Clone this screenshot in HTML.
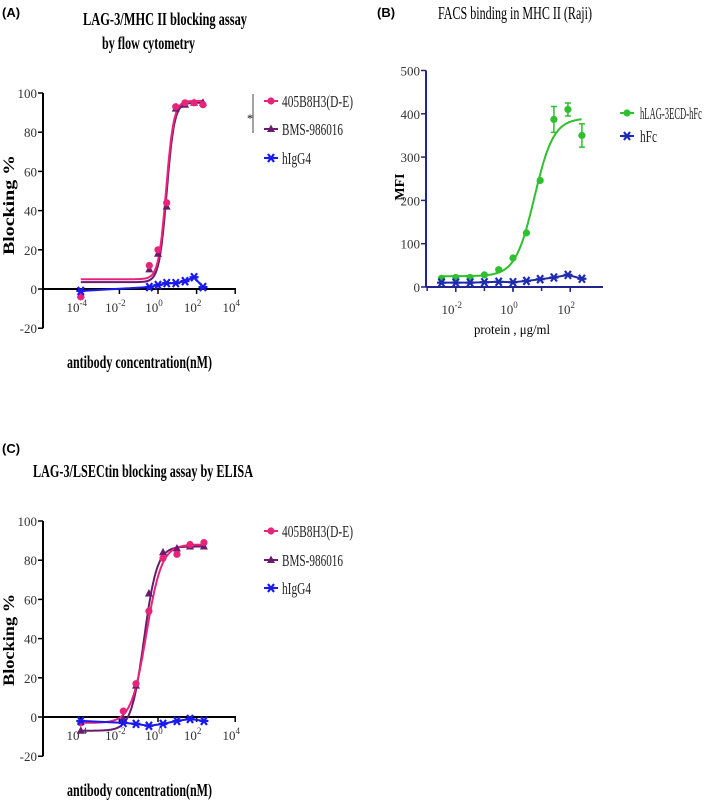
<!DOCTYPE html>
<html><head><meta charset="utf-8">
<style>
html,body{margin:0;padding:0;background:#fff;}
svg{display:block;font-family:"Liberation Serif",serif;}
.lbl{font-family:"Liberation Sans",sans-serif;font-weight:bold;font-size:13px;}
.ttl{font-weight:bold;font-size:18px;}
.tick{font-size:13px;fill:#333;}
</style></head>
<body>
<svg id="fig" width="709" height="805" viewBox="0 0 709 805">
<text class="lbl" x="2" y="17">(A)</text>
<text class="ttl" x="83" y="25" textLength="164" lengthAdjust="spacingAndGlyphs">LAG-3/MHC II blocking assay</text>
<text class="ttl" x="102" y="49" textLength="93" lengthAdjust="spacingAndGlyphs">by flow cytometry</text>
<text class="ttl" x="14" y="205" text-anchor="middle" transform="rotate(-90 14 205)" textLength="100" lengthAdjust="spacingAndGlyphs" style="font-size:16px">Blocking %</text>
<text class="ttl" x="67" y="368" textLength="145" lengthAdjust="spacingAndGlyphs">antibody concentration(nM)</text>

<text class="lbl" x="377" y="17">(B)</text>
<text x="438" y="19" textLength="154" lengthAdjust="spacingAndGlyphs" style="font-size:18px">FACS binding in  MHC II (Raji)</text>
<text x="404" y="187" text-anchor="middle" transform="rotate(-90 404 187)" style="font-size:14px;font-weight:bold">MFI</text>
<text x="474" y="334" textLength="76" lengthAdjust="spacingAndGlyphs" style="font-size:14px">protein , μg/ml</text>

<text class="lbl" x="2" y="453">(C)</text>
<text class="ttl" x="33" y="477" textLength="220" lengthAdjust="spacingAndGlyphs">LAG-3/LSECtin blocking assay by ELISA</text>
<text class="ttl" x="14" y="640" text-anchor="middle" transform="rotate(-90 14 640)" textLength="92" lengthAdjust="spacingAndGlyphs" style="font-size:16px">Blocking %</text>
<text class="ttl" x="67" y="796" textLength="145" lengthAdjust="spacingAndGlyphs">antibody concentration(nM)</text>
</svg>
<script>
// Panel A data (log10 concentration)
const aLogX = [-4, -0.45, 0.0, 0.45, 0.92, 1.4, 1.87, 2.33];
const aPink = [-4, 12, 20, 44, 93, 95, 95, 94];
const aPurple = [-3, 10, 18, 42, 92, 94, 95, 95];
const aBlue = [-1, 1, 2, 3, 3, 4, 6, 1];
const aYTicks = [-20, 0, 20, 40, 60, 80, 100];
const aXTicks = [-4, -2, 0, 2, 4];
const aFitPink = [5, 96, 0.42, 2.2];
const aFitPurple = [3.5, 95, 0.45, 2.2];
// Panel B data
const bLogX = [-2.5, -2.0, -1.5, -1.0, -0.5, 0.0, 0.47, 0.95, 1.43, 1.92, 2.41];
const bGreen = [20, 22, 22, 28, 40, 67, 125, 246, 387, 410, 350];
const bGreenErr = [0, 0, 0, 0, 0, 0, 0, 0, 30, 15, 27];
const bBlue = [10, 10, 10, 11, 12, 11, 14, 18, 22, 28, 19];
const bYTicks = [0, 100, 200, 300, 400, 500];
const bXTicks = [-2, 0, 2];
const bFitGreen = [25, 390, 0.75, 1.3];
// Panel C data
const cLogX = [-4, -1.8, -1.14, -0.47, 0.26, 0.98, 1.66, 2.38];
const cPink = [-3, 3, 17, 54, 81, 83, 88, 89];
const cPurple = [-7, -1, 16, 63, 84, 86, 87, 87];
const cBlue = [-2, -3, -3.5, -4.5, -3.5, -2, -1, -2];
const cYTicks = [-20, 0, 20, 40, 60, 80, 100];
const cXTicks = [-4, -2, 0, 2, 4];
const cFitPink = [-3, 88, -0.6, 1.1];
const cFitPurple = [-7, 87, -0.72, 1.3];

const NS = "http://www.w3.org/2000/svg";
const svg = document.getElementById('fig');
function mk(tag, attrs, parent) {
  const e = document.createElementNS(NS, tag);
  for (const k in attrs) e.setAttribute(k, attrs[k]);
  (parent || svg).appendChild(e);
  return e;
}
function logistic(f, lx) { return f[0] + (f[1] - f[0]) / (1 + Math.pow(10, f[3] * (f[2] - lx))); }

function axes(p, prefix) {
  const g = mk('g', {});
  
  
  const yTop = p.sy(p.yTicks[p.yTicks.length - 1]), yBot = p.sy(p.yTicks[0]);
  mk('line', {x1: p.x0, y1: yTop, x2: p.x0, y2: yBot, stroke: p.ac, 'stroke-width': 2}, g);
  mk('line', {x1: p.x0, y1: p.sy(0), x2: p.xEnd, y2: p.sy(0), stroke: p.ac, 'stroke-width': 2}, g);
  p.yTicks.forEach(v => {
    mk('line', {x1: p.x0 - 5, y1: p.sy(v), x2: p.x0, y2: p.sy(v), stroke: p.ac, 'stroke-width': 1.5}, g);
    const t = mk('text', {x: p.x0 - 6, y: p.sy(v) + 5, 'text-anchor': 'end', class: 'tick'}, g);
    t.textContent = v;
  });
  p.xTicks.forEach(v => {
    const x = p.sx(v);
    mk('line', {x1: x, y1: p.sy(0), x2: x, y2: p.sy(0) + 5, stroke: p.ac, 'stroke-width': 1.5}, g);
    const t = mk('text', {x: x - 4, y: p.tickY, 'text-anchor': 'middle', class: 'tick'}, g);
    t.textContent = '10';
    const s = mk('tspan', {dy: -6, style: 'font-size:9px'}, t);
    s.textContent = v;
  });
  if (p.minor) {
    for (let d = -3; d <= 2; d++) {
      const x = p.sx(d);
      if (x > p.x0 && x < p.xEnd) mk('line', {x1: x, y1: p.sy(0), x2: x, y2: p.sy(0) + 4, stroke: p.ac, 'stroke-width': 1.5}, g);
    }
  }
}
function curve(p, fit, color, name) {
  let d = '';
  for (let lx = p.fitFrom; lx <= p.fitTo + 1e-9; lx += 0.02) d += (d ? 'L' : 'M') + p.sx(lx).toFixed(1) + ',' + p.sy(logistic(fit, lx)).toFixed(1);
  const e = mk('path', {d: d, fill: 'none', stroke: color, 'stroke-width': 2});
  
  
}
function polyline(p, xs, ys, color, name) {
  const e = mk('polyline', {points: xs.map((x, i) => p.sx(x) + ',' + p.sy(ys[i])).join(' '), fill: 'none', stroke: color, 'stroke-width': 2});
  
  
}
function marker(type, x, y, color, g) {
  if (type === 'dot') mk('circle', {cx: x, cy: y, r: 3.6, fill: color}, g);
  else if (type === 'tri') mk('polygon', {points: `${x},${y - 4.5} ${x - 4},${y + 3} ${x + 4},${y + 3}`, fill: color}, g);
  else {
    mk('path', {d: `M${x - 4.5},${y}H${x + 4.5}M${x - 3},${y - 4}L${x + 3},${y + 4}M${x + 3},${y - 4}L${x - 3},${y + 4}`, stroke: color, 'stroke-width': 2.2, fill: 'none'}, g);
  }
}
function points(p, xs, ys, type, color, name, err) {
  const g = mk('g', {});
  
  
  xs.forEach((lx, i) => {
    const x = p.sx(lx), y = p.sy(ys[i]);
    if (err && err[i]) {
      const y1 = p.sy(ys[i] + err[i]), y2 = p.sy(ys[i] - err[i]);
      mk('path', {d: `M${x},${y1}V${y2}M${x - 3},${y1}H${x + 3}M${x - 3},${y2}H${x + 3}`, stroke: color, 'stroke-width': 1.5, fill: 'none'}, g);
    }
    marker(type, x, y, color, g);
  });
}
function legend(items, mx, tx, name) {
  items.forEach(it => {
    const g = mk('g', {});
    
    
    mk('line', {x1: mx - 7, y1: it.y, x2: mx + 7, y2: it.y, stroke: it.color, 'stroke-width': 2}, g);
    marker(it.type, mx, it.y, it.color, g);
    const t = mk('text', {x: tx, y: it.y + 6, style: 'font-size:17px;fill:#222', textLength: it.w, lengthAdjust: 'spacingAndGlyphs'}, g);
    t.textContent = it.label;
  });
}

// Panel A
const pA = {x0: 43, xEnd: 236, sx: v => 158 + v * 19.3, sy: v => 289 - v * 1.96, yTicks: aYTicks, xTicks: aXTicks, tickY: 312, ac: '#000', fitFrom: -4, fitTo: 2.33};
axes(pA, 'panel-a');
curve(pA, aFitPurple, '#6a1b6e', 'panel-a-bms-curve');
curve(pA, aFitPink, '#e8247a', 'panel-a-405-curve');
polyline(pA, aLogX, aBlue, '#1a1aee', 'panel-a-higg4-line');
points(pA, aLogX, aPurple, 'tri', '#6a1b6e', 'panel-a-bms-points');
points(pA, aLogX, aPink, 'dot', '#e8247a', 'panel-a-405-points');
points(pA, aLogX, aBlue, 'star', '#1a1aee', 'panel-a-higg4-points');
const br = mk('line', {x1: 253, y1: 94, x2: 253, y2: 133, stroke: '#444', 'stroke-width': 1});


const st = mk('text', {x: 247, y: 122, style: 'font-size:12px'});
st.textContent = '*';


legend([{key: '405', y: 101, color: '#e8247a', type: 'dot', label: '405B8H3(D-E)', w: 71},
        {key: 'bms', y: 129, color: '#6a1b6e', type: 'tri', label: 'BMS-986016', w: 61},
        {key: 'higg4', y: 158, color: '#1a1aee', type: 'star', label: 'hIgG4', w: 29}], 271, 282, 'panel-a-legend');

// Panel B
const pB = {x0: 426, xEnd: 603, sx: v => 513 + v * 28.6, sy: v => 287 - v * 0.433, yTicks: bYTicks, xTicks: bXTicks, tickY: 314, ac: '#23238f', minor: true, fitFrom: -2.5, fitTo: 2.41};
axes(pB, 'panel-b');
curve(pB, bFitGreen, '#2fbf2f', 'panel-b-hlag3-curve');
polyline(pB, bLogX, bBlue, '#1e2bb0', 'panel-b-hfc-line');
points(pB, bLogX, bGreen, 'dot', '#2fbf2f', 'panel-b-hlag3-points', bGreenErr);
points(pB, bLogX, bBlue, 'star', '#1e2bb0', 'panel-b-hfc-points');
legend([{key: 'hlag3', y: 113, color: '#2fbf2f', type: 'dot', label: 'hLAG-3ECD-hFc', w: 62},
        {key: 'hfc', y: 136, color: '#1e2bb0', type: 'star', label: 'hFc', w: 17}], 627, 640, 'panel-b-legend');

// Panel C
const pC = {x0: 43, xEnd: 236, sx: v => 158 + v * 19.3, sy: v => 717 - v * 1.96, yTicks: cYTicks, xTicks: cXTicks, tickY: 740, ac: '#000', fitFrom: -4, fitTo: 2.38};
axes(pC, 'panel-c');
curve(pC, cFitPurple, '#6a1b6e', 'panel-c-bms-curve');
curve(pC, cFitPink, '#e8247a', 'panel-c-405-curve');
polyline(pC, cLogX, cBlue, '#1a1aee', 'panel-c-higg4-line');
points(pC, cLogX, cPurple, 'tri', '#6a1b6e', 'panel-c-bms-points');
points(pC, cLogX, cPink, 'dot', '#e8247a', 'panel-c-405-points');
points(pC, cLogX, cBlue, 'star', '#1a1aee', 'panel-c-higg4-points');
legend([{key: '405', y: 531, color: '#e8247a', type: 'dot', label: '405B8H3(D-E)', w: 71},
        {key: 'bms', y: 560, color: '#6a1b6e', type: 'tri', label: 'BMS-986016', w: 61},
        {key: 'higg4', y: 588, color: '#1a1aee', type: 'star', label: 'hIgG4', w: 29}], 271, 282, 'panel-c-legend');
</script>
</body></html>
